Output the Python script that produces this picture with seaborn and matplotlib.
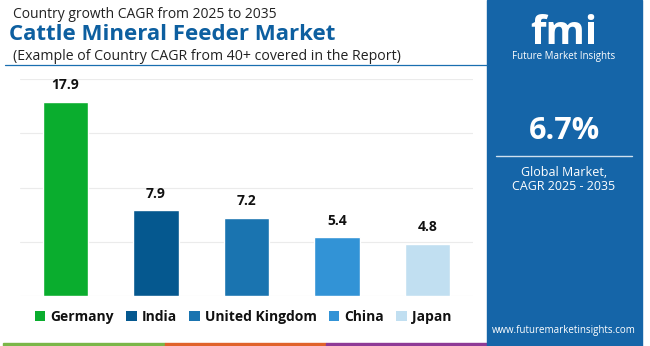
import matplotlib
matplotlib.use("Agg")
import matplotlib.pyplot as plt
from matplotlib.patches import Rectangle, Patch
from matplotlib.lines import Line2D
import seaborn as sns
import pandas as pd

countries = ["Germany", "India", "United Kingdom", "China", "Japan"]
cagr = [17.9, 7.9, 7.2, 5.4, 4.8]
colors = ["#0aad2e", "#05588f", "#1a74b0", "#3293d6", "#c1dff1"]
global_cagr = "6.7%"

sns.set_theme(style="white")
plt.rcParams["font.family"] = ["Open Sans", "DejaVu Sans"]

W, H = 650, 346
fig = plt.figure(figsize=(W / 100, H / 100), dpi=100)
fig.patch.set_facecolor("white")

def fx(px):
    return px / W

def fy(py):
    return 1 - py / H

ax = fig.add_axes([fx(20), fy(296), fx(453), (296 - 79) / H])
df = pd.DataFrame({"country": countries, "cagr": cagr})
sns.barplot(data=df, x="country", y="cagr", hue="country", palette=colors,
            width=0.5, legend=False, ax=ax, saturation=1)
ax.set_ylim(0, 20)
ax.set_yticks([0, 5, 10, 15, 20])
ax.yaxis.grid(True, color="#ebebeb", linewidth=0.8)
ax.set_axisbelow(True)
ax.set_yticklabels([])
ax.set_xticklabels([])
ax.set_xlabel("")
ax.set_ylabel("")
ax.tick_params(length=0)
for s in ax.spines.values():
    s.set_visible(False)
for i, v in enumerate(cagr):
    ax.text(i, v + 0.9, f"{v}", ha="center", va="bottom", fontsize=10,
            fontweight="bold", color="#111111")

# Titles
fig.text(fx(13), fy(15), "Country growth CAGR from 2025 to 2035", fontsize=10,
         color="#222222", va="center", ha="left")
fig.text(fx(9), fy(35), "Cattle Mineral Feeder Market", fontsize=16,
         fontweight="bold", color="#0d5fa0", va="center", ha="left")
fig.text(fx(13), fy(56), "(Example of Country CAGR from 40+ covered in the Report)",
         fontsize=10.2, color="#222222", va="center", ha="left")
fig.add_artist(Line2D([fx(5), fx(487)], [fy(65), fy(65)], color="#1a6fb0",
                      linewidth=0.9))

# Legend
handles = [Patch(facecolor=c, edgecolor="none", label=n) for n, c in zip(countries, colors)]
leg = fig.legend(handles=handles, loc="center", bbox_to_anchor=(fx(243), fy(317)),
                 ncol=5, frameon=False, handlelength=0.75, handleheight=0.75,
                 handletextpad=0.35, columnspacing=0.9,
                 prop={"weight": "bold", "size": 10})
for t in leg.get_texts():
    t.set_color("#111111")

# Bottom strip
for x0, x1, c in [(3, 165, "#7ab648"), (165, 326, "#e0622a"), (326, 487, "#8e3a96")]:
    fig.add_artist(Rectangle((fx(x0), 0), fx(x1 - x0), 3 / H, color=c,
                             transform=fig.transFigure))

# Right panel
fig.add_artist(Rectangle((fx(487), 0), fx(155), 1, color="#1565a8",
                         transform=fig.transFigure))
cx = fx(564)
fig.text(cx, fy(44), "fmi", fontsize=29, fontweight="bold", color="white",
         ha="center", va="baseline")
fig.text(cx, fy(57), "Future Market Insights", fontsize=7, color="white",
         ha="center", va="center")
fig.text(cx, fy(131), global_cagr, fontsize=22, fontweight="bold", color="white",
         ha="center", va="center")
fig.add_artist(Line2D([fx(496), fx(632)], [fy(156), fy(156)], color="#cfe0ef",
                      linewidth=1))
fig.text(cx, fy(172), "Global Market,", fontsize=9, color="white",
         ha="center", va="center")
fig.text(cx, fy(186), "CAGR 2025 - 2035", fontsize=9, color="white",
         ha="center", va="center")
fig.text(cx, fy(331), "www.futuremarketinsights.com", fontsize=7, color="white",
         ha="center", va="center")

fig.savefig("out.png", dpi=100)
